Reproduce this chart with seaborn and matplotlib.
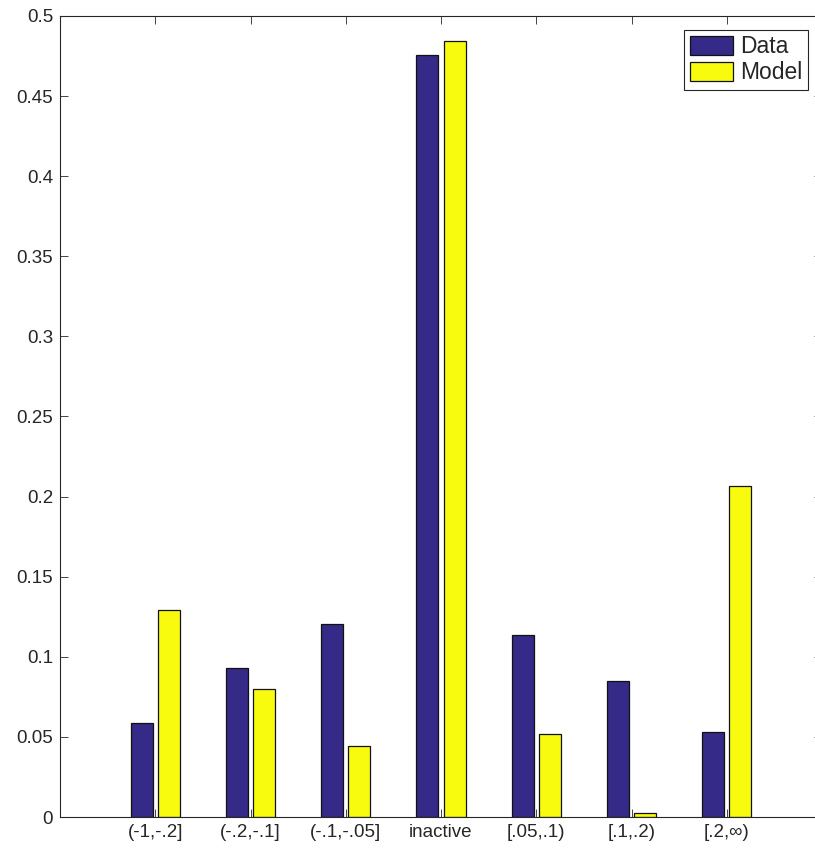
import matplotlib
matplotlib.use("Agg")
import matplotlib.pyplot as plt
import seaborn as sns
import pandas as pd

categories = ["(-1,-.2]", "(-.2,-.1]", "(-.1,-.05]", "inactive", "[.05,.1)", "[.1,.2)", "[.2,\u221e)"]
data_vals = [0.0585, 0.093, 0.1207, 0.4757, 0.1134, 0.0849, 0.0533]
model_vals = [0.1295, 0.0799, 0.0443, 0.4846, 0.0518, 0.0027, 0.2066]
series_names = ["Data", "Model"]
yticks = [0, 0.05, 0.1, 0.15, 0.2, 0.25, 0.3, 0.35, 0.4, 0.45, 0.5]
ytick_labels = ["0", "0.05", "0.1", "0.15", "0.2", "0.25", "0.3", "0.35", "0.4", "0.45", "0.5"]

df = pd.DataFrame({
    "bin": categories * 2,
    "share": data_vals + model_vals,
    "series": [series_names[0]] * len(categories) + [series_names[1]] * len(categories),
})

sns.set_style("ticks")
plt.rcParams["font.family"] = ["Liberation Sans", "DejaVu Sans"]

fig = plt.figure(figsize=(8.15, 8.49), dpi=100)
ax = fig.add_axes([60 / 815, 32 / 849, 762 / 815, 801 / 849])

sns.barplot(
    data=df, x="bin", y="share", hue="series", order=categories,
    hue_order=series_names, palette=["#352A87", "#F9FB0E"],
    width=0.573, gap=0.197, edgecolor="#111111", linewidth=0.9,
    saturation=1, errorbar=None, ax=ax,
)

ax.set_xlim(-1, 7)
ax.set_ylim(0, 0.5)
ax.set_yticks(yticks)
ax.set_yticklabels(ytick_labels)
ax.set_xlabel("")
ax.set_ylabel("")

for side in ["left", "right", "top", "bottom"]:
    ax.spines[side].set_visible(True)
    ax.spines[side].set_color("#262626")
    ax.spines[side].set_linewidth(0.8)

ax.tick_params(axis="both", direction="in", length=6, width=0.6, color="#262626",
               labelsize=13.5, labelcolor="#262626", top=True, right=True, pad=5)

leg = ax.legend(loc="upper right", fontsize=16.5, frameon=True, fancybox=False,
                handlelength=1.9, handleheight=0.9, handletextpad=0.3,
                labelspacing=0.12, borderpad=0.25, borderaxespad=0.6)
leg.get_frame().set_edgecolor("#262626")
leg.get_frame().set_linewidth(0.8)
leg.get_frame().set_alpha(1)

fig.savefig("out.png", dpi=100)
